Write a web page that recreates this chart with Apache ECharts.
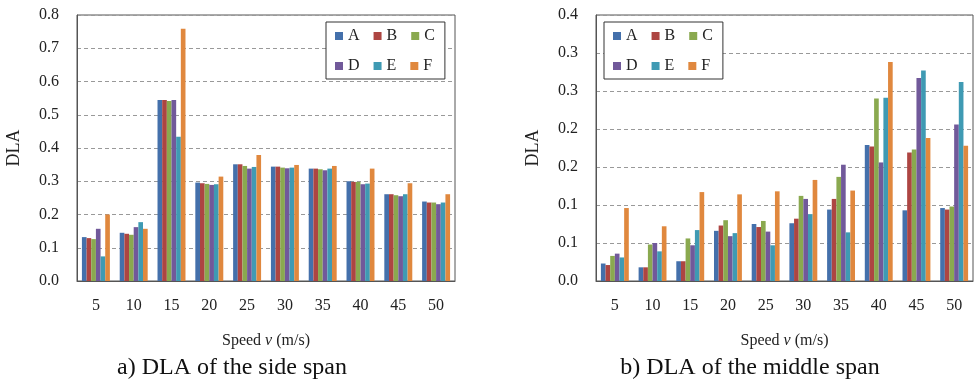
<!DOCTYPE html>
<html>
<head>
<meta charset="utf-8">
<script src="https://cdn.jsdelivr.net/npm/echarts@6/dist/echarts.min.js"></script>
<style>
	html, body { margin: 0; padding: 0; background: #fff; }
	#main { width: 977px; height: 382px; }
</style>
</head>
<body>
<div id="main"></div>
<script>
// speeds (m/s)
var speeds = ['5', '10', '15', '20', '25', '30', '35', '40', '45', '50'];
var seriesNames = ['A', 'B', 'C', 'D', 'E', 'F'];

// a) side span
var sideA = [0.132, 0.145, 0.544, 0.296, 0.351, 0.344, 0.338, 0.300, 0.261, 0.239];
var sideB = [0.129, 0.142, 0.544, 0.294, 0.351, 0.344, 0.338, 0.298, 0.261, 0.236];
var sideC = [0.126, 0.139, 0.541, 0.292, 0.346, 0.341, 0.336, 0.298, 0.258, 0.236];
var sideD = [0.157, 0.162, 0.544, 0.289, 0.338, 0.339, 0.333, 0.291, 0.255, 0.231];
var sideE = [0.074, 0.177, 0.434, 0.291, 0.343, 0.341, 0.338, 0.293, 0.261, 0.236];
var sideF = [0.200, 0.157, 0.759, 0.314, 0.379, 0.349, 0.346, 0.338, 0.294, 0.261];

// b) middle span
var midA = [0.023, 0.018, 0.026, 0.066, 0.075, 0.076, 0.094, 0.179, 0.093, 0.096];
var midB = [0.021, 0.018, 0.026, 0.073, 0.071, 0.082, 0.108, 0.177, 0.169, 0.094];
var midC = [0.033, 0.048, 0.056, 0.080, 0.079, 0.112, 0.137, 0.240, 0.173, 0.098];
var midD = [0.036, 0.050, 0.047, 0.059, 0.065, 0.108, 0.153, 0.156, 0.267, 0.206];
var midE = [0.031, 0.039, 0.067, 0.063, 0.047, 0.088, 0.064, 0.241, 0.277, 0.262];
var midF = [0.096, 0.072, 0.117, 0.114, 0.118, 0.133, 0.119, 0.288, 0.188, 0.178];

// tick labels as printed
var sideTicks = ['0.0', '0.1', '0.2', '0.3', '0.4', '0.5', '0.6', '0.7', '0.8'];
var midTicks = ['0.0', '0.1', '0.1', '0.2', '0.2', '0.3', '0.3', '0.4'];

var colors = ['#4470AB', '#AD4542', '#8AA94F', '#71599A', '#3F9AB3', '#E0883E'];
var font = 'Liberation Serif';

var sideData = [sideA, sideB, sideC, sideD, sideE, sideF];
var midData = [midA, midB, midC, midD, midE, midF];

function yAxisOf(gridIndex, max, interval, ticks)
{
	return {
		type: 'value',
		gridIndex: gridIndex,
		min: 0,
		max: max,
		interval: interval,
		name: 'DLA',
		nameLocation: 'middle',
		nameGap: 54,
		nameTextStyle: { fontFamily: font, fontSize: 18, color: '#222' },
		axisLine: { show: true, lineStyle: { color: '#555' } },
		axisTick: { show: false },
		axisLabel: {
			margin: 18,
			fontFamily: font,
			fontSize: 16,
			color: '#222',
			formatter: function(v)
			{
				return ticks[Math.round(v / interval)];
			}
		},
		splitLine: { show: true, lineStyle: { color: '#999', type: [4, 3] } }
	};
}

function xAxisOf(gridIndex)
{
	return {
		type: 'category',
		gridIndex: gridIndex,
		data: speeds,
		name: 'Speed {i|v} (m/s)',
		nameLocation: 'middle',
		nameGap: 52,
		nameTextStyle: {
			fontFamily: font, fontSize: 16, color: '#222',
			rich: { i: { fontFamily: font, fontSize: 16, fontStyle: 'italic', color: '#222' } }
		},
		axisLine: { show: true, lineStyle: { color: '#555' } },
		axisTick: { show: false },
		axisLabel: { margin: 17, fontFamily: font, fontSize: 16, color: '#222' }
	};
}

function legendOf(left)
{
	return {
		left: left,
		top: 22,
		width: 106,
		orient: 'horizontal',
		data: seriesNames,
		icon: 'rect',
		itemWidth: 8,
		itemHeight: 8,
		itemGap: 14,
		padding: [6, 10, 5, 9],
		borderColor: '#333',
		borderWidth: 1,
		backgroundColor: '#fff',
		textStyle: { fontFamily: font, fontSize: 16, color: '#222', lineHeight: 13 }
	};
}

var series = [];
for (var i = 0; i < seriesNames.length; i++)
{
	series.push({
		name: seriesNames[i], type: 'bar', xAxisIndex: 0, yAxisIndex: 0,
		data: sideData[i], barGap: '0%', barCategoryGap: '26%',
		itemStyle: { color: colors[i] }
	});
}
for (var j = 0; j < seriesNames.length; j++)
{
	series.push({
		name: seriesNames[j], type: 'bar', xAxisIndex: 1, yAxisIndex: 1,
		data: midData[j], barGap: '0%', barCategoryGap: '26%',
		itemStyle: { color: colors[j] }
	});
}

var chart = echarts.init(document.getElementById('main'));
chart.setOption({
	animation: false,
	color: colors,
	grid: [
		{ left: 77, top: 15, width: 378, height: 266, show: true, borderColor: '#555', borderWidth: 1 },
		{ left: 596, top: 15, width: 377, height: 266, show: true, borderColor: '#555', borderWidth: 1 }
	],
	xAxis: [xAxisOf(0), xAxisOf(1)],
	yAxis: [yAxisOf(0, 0.8, 0.1, sideTicks), yAxisOf(1, 0.35, 0.05, midTicks)],
	legend: [legendOf(326), legendOf(604)],
	graphic: [
		{ type: 'text', x: 232, y: 368, style: { text: 'a) DLA of the side span', font: '24px "Liberation Serif"', fill: '#111', textAlign: 'center', textVerticalAlign: 'middle' } },
		{ type: 'text', x: 750, y: 368, style: { text: 'b) DLA of the middle span', font: '24px "Liberation Serif"', fill: '#111', textAlign: 'center', textVerticalAlign: 'middle' } }
	],
	series: series
});
</script>
</body>
</html>
